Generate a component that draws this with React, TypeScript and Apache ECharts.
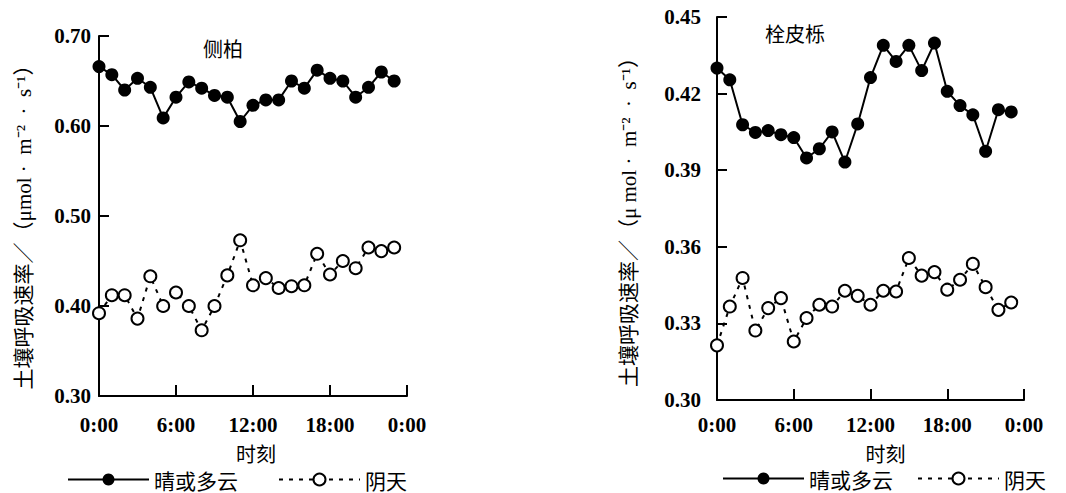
import React, { useEffect, useRef } from "react";
import * as echarts from "echarts";

// hour of day for each observation (0:00 .. 23:00)
const hours = [0, 1, 2, 3, 4, 5, 6, 7, 8, 9, 10, 11, 12, 13, 14, 15, 16, 17, 18, 19, 20, 21, 22, 23];
const xTickLabels = ["0:00", "6:00", "12:00", "18:00", "0:00"];
const seriesNames = ["晴或多云", "阴天"];
const titles = ["侧柏", "栓皮栎"];

// 侧柏 (Platycladus orientalis)
const cebaiSunny = [
  0.666, 0.657, 0.640, 0.653, 0.643, 0.609, 0.632, 0.649, 0.642, 0.634, 0.632, 0.605,
  0.623, 0.629, 0.629, 0.650, 0.642, 0.662, 0.653, 0.650, 0.632, 0.643, 0.660, 0.650,
];
const cebaiCloudy = [
  0.392, 0.412, 0.412, 0.386, 0.433, 0.400, 0.415, 0.400, 0.373, 0.400, 0.434, 0.473,
  0.423, 0.431, 0.420, 0.422, 0.423, 0.458, 0.435, 0.450, 0.442, 0.465, 0.461, 0.465,
];

// 栓皮栎 (Quercus variabilis)
const shuanSunny = [
  0.430, 0.4254, 0.4078, 0.4048, 0.4055, 0.4039, 0.4028, 0.3948, 0.3984, 0.4050, 0.3932, 0.4081,
  0.4263, 0.4389, 0.4326, 0.4389, 0.4290, 0.4398, 0.4209, 0.4153, 0.4117, 0.3974, 0.4137, 0.4128,
];
const shuanCloudy = [
  0.3214, 0.3366, 0.3478, 0.3272, 0.3360, 0.3399, 0.3229, 0.3321, 0.3373, 0.3366, 0.3428, 0.3408,
  0.3373, 0.3428, 0.3425, 0.3556, 0.3487, 0.3501, 0.3432, 0.3471, 0.3533, 0.3442, 0.3353, 0.3382,
];

const NB = "\u00a0";
const yNames = [
  `土壤呼吸速率／（μmol${NB}·${NB}${NB}m⁻²${NB}${NB}·${NB}${NB}s⁻¹）`,
  `土壤呼吸速率／（μ${NB}mol${NB}·${NB}${NB}m⁻²${NB}${NB}·${NB}${NB}s⁻¹）`,
];
const xName = "时刻";

const SERIF = "'Liberation Serif', 'Times New Roman', 'Noto Sans CJK SC', serif";
const CJK = "'Noto Sans CJK SC', sans-serif";

function pairs(values: number[]) {
  return hours.map((h, i) => [h, values[i]]);
}

export default function App() {
  const ref = useRef<HTMLDivElement>(null);

  useEffect(() => {
    if (!ref.current) return;
    const chart = echarts.init(ref.current, null, { renderer: "svg" });

    const axisLine = { show: true, lineStyle: { color: "#000", width: 2 } };

    const xAxisBase = (gridIndex: number, margin: number, nameGap: number, namePad: number[]) => ({
      type: "value",
      gridIndex,
      min: 0,
      max: 24,
      interval: 6,
      axisLine,
      axisTick: { show: true, inside: true, length: 11, lineStyle: { color: "#000", width: 2 } },
      splitLine: { show: false },
      axisLabel: {
        margin,
        color: "#000",
        fontSize: 21,
        fontWeight: "bold",
        fontFamily: SERIF,
        formatter: (v: number) => xTickLabels[Math.round(v / 6)] ?? "",
      },
      name: xName,
      nameLocation: "middle",
      nameGap,
      nameTextStyle: {
        color: "#000",
        fontSize: 20,
        lineHeight: 20,
        fontFamily: CJK,
        padding: namePad,
      },
    });

    const yAxisBase = (
      gridIndex: number,
      min: number,
      max: number,
      interval: number,
      margin: number
    ) => ({
      type: "value",
      gridIndex,
      min,
      max,
      interval,
      axisLine,
      axisTick: { show: true, inside: true, length: 10, lineStyle: { color: "#000", width: 2 } },
      splitLine: { show: false },
      axisLabel: {
        margin,
        color: "#000",
        fontSize: 21,
        fontWeight: "bold",
        fontFamily: SERIF,
        formatter: (v: number) => v.toFixed(2),
      },
    });

    const sunnyStyle = (xAxisIndex: number, values: number[]) => ({
      name: seriesNames[0],
      type: "line",
      xAxisIndex,
      yAxisIndex: xAxisIndex,
      data: pairs(values),
      symbol: "circle",
      symbolSize: 13,
      itemStyle: { color: "#000", borderColor: "#000", borderWidth: 0 },
      lineStyle: { color: "#000", width: 2 },
      z: 3,
    });
    const cloudyStyle = (xAxisIndex: number, values: number[]) => ({
      name: seriesNames[1],
      type: "line",
      xAxisIndex,
      yAxisIndex: xAxisIndex,
      data: pairs(values),
      symbol: "circle",
      symbolSize: 12,
      itemStyle: { color: "#fff", borderColor: "#000", borderWidth: 2 },
      lineStyle: { color: "#000", width: 2, type: [4, 6] },
      z: 3,
    });

    const legendBase = (left: number, top: number, itemGap: number) => ({
      left,
      top,
      orient: "horizontal",
      data: seriesNames,
      itemWidth: 81,
      itemHeight: 15,
      itemGap,
      textStyle: { color: "#000", fontSize: 21, lineHeight: 20, fontFamily: CJK },
      selectedMode: false,
    });

    const textEl = (x: number, y: number, text: string, rotation = 0, font = CJK, size = 20) => ({
      type: "text",
      x,
      y,
      rotation,
      style: {
        text,
        align: "center",
        verticalAlign: "middle",
        fontSize: size,
        fontFamily: font,
        fill: "#000",
      },
    });

    chart.setOption({
      animation: false,
      backgroundColor: "#fff",
      grid: [
        { left: 99, top: 36, width: 308, height: 360 },
        { left: 717, top: 17, width: 307, height: 383 },
      ],
      xAxis: [xAxisBase(0, 18, 47, [0, 0, 0, 6]), xAxisBase(1, 14, 43, [0, 0, 0, 30])],
      yAxis: [yAxisBase(0, 0.3, 0.7, 0.1, 8), yAxisBase(1, 0.3, 0.45, 0.03, 16)],
      legend: [legendBase(62, 464, 40), legendBase(717, 463, 24)],
      graphic: [
        textEl(223, 48, titles[0]),
        textEl(795, 33, titles[1]),
        textEl(24, 222, yNames[0], Math.PI / 2, SERIF, 21),
        textEl(629, 217, yNames[1], Math.PI / 2, SERIF, 21),
      ],
      series: [
        sunnyStyle(0, cebaiSunny),
        cloudyStyle(0, cebaiCloudy),
        sunnyStyle(1, shuanSunny),
        cloudyStyle(1, shuanCloudy),
      ],
    });

    return () => chart.dispose();
  }, []);

  return (
    <div
      ref={ref}
      style={{ position: "fixed", left: 0, top: 0, width: 1066, height: 493, background: "#fff" }}
    />
  );
}
